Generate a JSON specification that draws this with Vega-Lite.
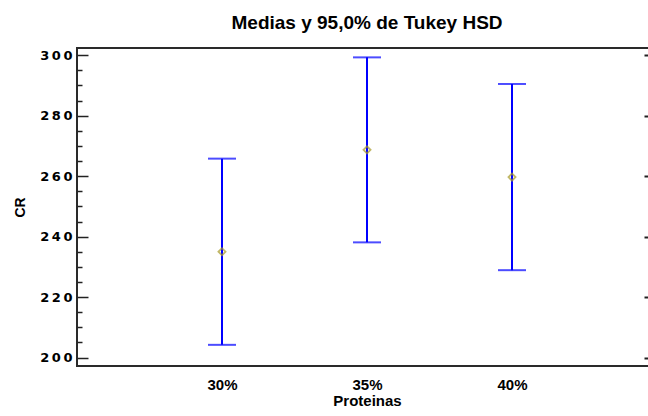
{
  "$schema": "https://vega.github.io/schema/vega-lite/v6.json",
  "autosize": "none",
  "width": 580,
  "height": 318,
  "padding": {"left": 77, "top": 48, "right": 0, "bottom": 50},
  "background": "white",
  "title": {
    "text": "Medias y 95,0% de Tukey HSD",
    "font": "Liberation Sans",
    "fontSize": 19,
    "fontWeight": "bold",
    "color": "#000000",
    "anchor": "middle",
    "offset": 15
  },
  "data": {
    "values": [
      {"Proteinas": "30%", "media": 235.0, "lo": 204.2, "hi": 265.8},
      {"Proteinas": "35%", "media": 268.7, "lo": 238.1, "hi": 299.3},
      {"Proteinas": "40%", "media": 259.7, "lo": 228.9, "hi": 290.5}
    ]
  },
  "encoding": {
    "x": {
      "field": "Proteinas",
      "type": "ordinal",
      "scale": {"type": "point", "padding": 1.132},
      "axis": {
        "title": "Proteinas",
        "orient": "bottom",
        "domain": false,
        "ticks": false,
        "labelAngle": 0,
        "labelFont": "Liberation Sans",
        "labelFontSize": 15,
        "labelFontWeight": "bold",
        "labelColor": "#000000",
        "labelPadding": 11,
        "titleFont": "Liberation Sans",
        "titleFontSize": 15,
        "titleFontWeight": "bold",
        "titleColor": "#000000",
        "titlePadding": 1
      }
    }
  },
  "layer": [
    {
      "mark": {"type": "rule", "color": "#0000ff", "strokeWidth": 2},
      "encoding": {
        "y": {
          "field": "lo",
          "type": "quantitative",
          "scale": {"domain": [197.2, 302.4], "nice": false, "zero": false},
          "axis": {
            "orient": "left",
            "title": "CR",
            "values": [200, 220, 240, 260, 280, 300],
            "labelExpr": "datum.label[0] + '\u2009' + datum.label[1] + '\u2009' + datum.label[2]",
            "domain": false,
            "ticks": false,
            "grid": true,
            "gridColor": "#222222",
            "gridWidth": 1.5,
            "gridOpacity": 1,
            "gridDash": [11, 2000],
            "labelFont": "DejaVu Sans",
            "labelFontSize": 13,
            "labelFontWeight": "bold",
            "labelColor": "#000000",
            "labelPadding": 5,
            "titleFont": "Liberation Sans",
            "titleFontSize": 14,
            "titleFontWeight": "bold",
            "titleColor": "#000000",
            "titlePadding": 12
          }
        },
        "y2": {"field": "hi"}
      }
    },
    {
      "mark": {"type": "tick", "color": "#0000ff", "size": 28, "thickness": 2, "orient": "horizontal"},
      "encoding": {
        "y": {
          "field": "lo",
          "type": "quantitative",
          "axis": {
            "orient": "right",
            "title": null,
            "labels": false,
            "domain": false,
            "ticks": false,
            "values": [200, 220, 240, 260, 280, 300],
            "grid": true,
            "gridColor": "#222222",
            "gridWidth": 2,
            "gridOpacity": 1,
            "gridDash": [13, 2000]
          }
        }
      }
    },
    {
      "mark": {"type": "tick", "color": "#0000ff", "size": 28, "thickness": 2, "orient": "horizontal"},
      "encoding": {
        "y": {
          "field": "hi",
          "type": "quantitative",
          "axis": {
            "orient": "left",
            "title": null,
            "labels": false,
            "domain": false,
            "ticks": false,
            "values": [205, 210, 215, 225, 230, 235, 245],
            "grid": true,
            "gridColor": "#222222",
            "gridWidth": 1.5,
            "gridOpacity": 1,
            "gridDash": [5, 2000]
          }
        }
      }
    },
    {
      "mark": {"type": "point", "shape": "diamond", "size": 50, "filled": false, "stroke": "#a89a28", "strokeWidth": 1.8},
      "encoding": {
        "y": {
          "field": "media",
          "type": "quantitative",
          "axis": {
            "orient": "left",
            "title": null,
            "labels": false,
            "domain": false,
            "ticks": false,
            "values": [250, 255, 265, 270, 275, 285, 290, 295],
            "grid": true,
            "gridColor": "#222222",
            "gridWidth": 1.5,
            "gridOpacity": 1,
            "gridDash": [5, 2000]
          }
        }
      }
    }
  ],
  "resolve": {"axis": {"y": "independent"}},
  "config": {
    "view": {"stroke": "#2a2a2a", "strokeWidth": 2}
  }
}
